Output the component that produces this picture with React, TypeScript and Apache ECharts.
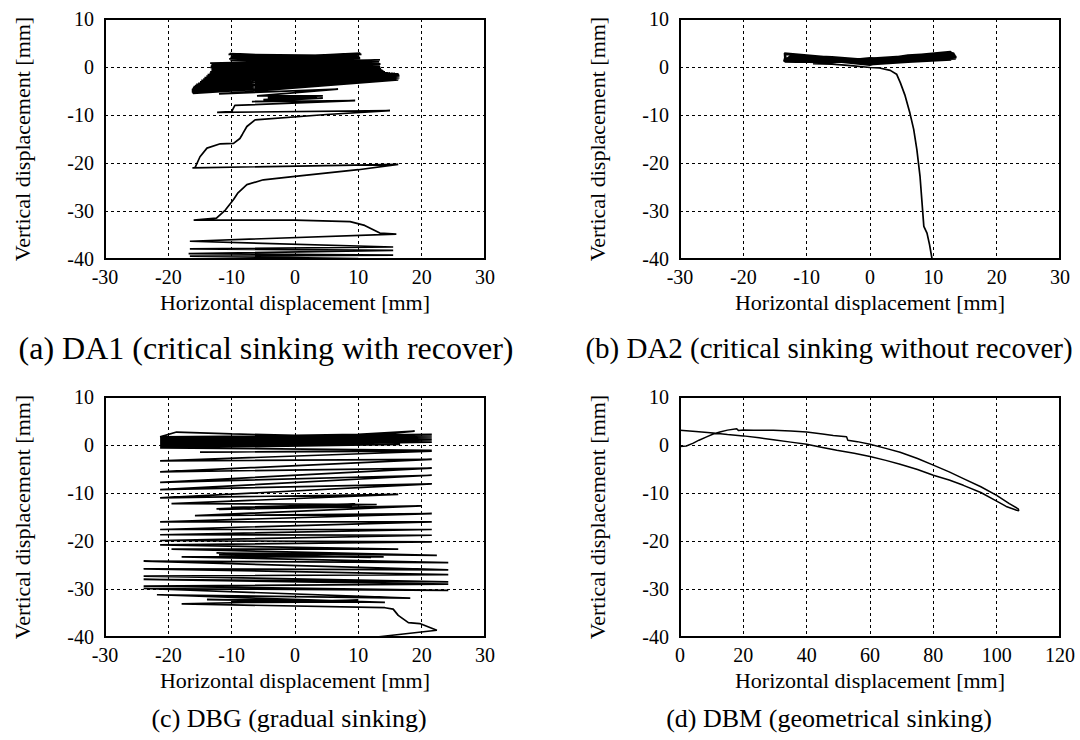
import React, { useEffect, useRef } from "react";
import * as echarts from "echarts";

const FONT = "Liberation Serif";

const xLabel = "Horizontal displacement [mm]";
const yLabel = "Vertical displacement [mm]";
const captions = [
  "(a) DA1 (critical sinking with recover)",
  "(b) DA2 (critical sinking without recover)",
  "(c) DBG (gradual sinking)",
  "(d) DBM (geometrical sinking)",
];
const xRanges: [number, number, number][] = [
  [-30, 30, 10],
  [-30, 30, 10],
  [-30, 30, 10],
  [0, 120, 20],
];
const yRange: [number, number, number] = [-40, 10, 10];

// (a) DA1 trajectory [horizontal, vertical] in mm
const da1Path: [number, number][] = [
  [0, 0.5], [-10.3, 2.8], [0, 2.2], [10.3, 2.9], [9, 2.4], [-10.5, 2.6], [0, 2.0], [10.5, 2.6],
  [-10, 2.3], [0, 1.8], [10, 2.3], [-10.2, 2.0], [0, 1.6], [10.2, 2.0], [-10.4, 1.7], [0, 1.3],
  [10.3, 1.8], [-10.2, 1.4], [0, 1.0], [10.1, 1.5],
  [-13.4, 0.8], [13.4, 1.5], [-13.2, 0.5], [13.3, 1.2], [-13.3, 0.2], [13.3, 0.9], [-13.4, -0.1],
  [13.5, 0.6], [-13.2, -0.4], [13.4, 0.4], [-13.2, -0.7], [13.4, 0.1], [-13.4, -1.0], [13.5, -0.1],
  [-13.5, -1.3], [13.5, -0.3], [-13.8, -1.6], [13.6, -0.5], [-14, -1.9], [13.8, -0.7],
  [-14.3, -2.2], [14.0, -0.9], [-14.5, -2.5], [14.2, -1.0], [-14.8, -2.8], [14.6, -1.2],
  [-15, -3.1], [15, -1.3], [-15.3, -3.4], [15.4, -1.35], [-15.6, -3.6], [15.8, -1.4],
  [-15.8, -3.9], [16.1, -1.45], [-16, -4.1], [16.3, -1.5], [-16.1, -4.3], [16.4, -1.6],
  [-16.2, -4.5], [16.4, -1.7], [-16.3, -4.7], [16.5, -1.8], [-16.3, -4.8], [16.5, -1.9],
  [-16.3, -4.9], [16.5, -2.0], [-16.3, -5.0], [16.5, -2.1], [-16.3, -5.1], [16.5, -2.2],
  [-16.3, -5.2], [16.5, -2.3], [-16.2, -5.3], [16.5, -2.4], [-16.2, -5.4], [16.4, -2.5],
  [-16.1, -5.5], [16.3, -2.7], [-12, -5.6], [6.8, -4.6], [-6, -6.0], [4.4, -6.0],
  [-4.3, -6.4], [3.5, -6.3], [-5, -6.8], [4.4, -6.5], [-6.8, -7.2], [9.5, -7.0],
  [-9.5, -8.0], [-10, -9.3], [-12.3, -9.45], [15, -9.1], [5, -9.9], [-6.3, -11.0],
  [-7.6, -12.4], [-8.3, -14.0], [-8.7, -14.9], [-9.7, -15.9], [-11.8, -16.0], [-13.9, -16.9],
  [-15.0, -18.7], [-15.8, -21.0], [-16.2, -21.0], [16.3, -20.3], [10, -21.4], [0, -22.8],
  [-5, -23.5], [-7.6, -24.5], [-9.0, -26.2], [-9.7, -27.6], [-11, -29.8], [-12.4, -31.5],
  [-16, -31.9], [0, -31.9], [8.7, -32.2], [11, -33.0], [13.4, -34.6], [16, -34.8],
  [-16.6, -36.3], [15.5, -37.5], [-16.6, -37.9], [15.5, -38.2], [-16.8, -38.9], [15.5, -39.2],
  [-16.6, -39.4], [10, -39.9],
];

// (b) DA2 trajectory
const da2Path: [number, number][] = [
  [0, 0.4], [-6, 1.6], [-13.5, 2.8], [-6, 1.9], [0, 1.2], [6, 1.5], [13.4, 1.8],
  [12.5, 3.1], [6, 2.2], [0, 1.4], [-6, 1.2], [-13.6, 1.2], [-13.3, 2.6], [-6, 1.7],
  [0, 0.9], [6, 1.3], [13.5, 1.7], [13.2, 2.9], [6, 2.0], [0, 1.2], [-6, 1.0],
  [-13.4, 1.0], [-13.5, 2.9], [-6, 2.0], [0, 0.8], [6, 1.2], [13.6, 1.9], [12.7, 3.2],
  [6, 2.4], [0, 1.6], [-6, 1.5], [-13.2, 1.4], [-13.4, 2.7], [-6, 1.8], [0, 1.0],
  [6, 1.6], [13.6, 2.1], [12.9, 3.0], [6, 2.3], [0, 1.8], [-6, 0.9], [-13.5, 1.1],
  [-12.5, 2.5], [-6, 2.1], [0, 1.5], [6, 1.9], [13.2, 2.5], [13.0, 2.0], [6, 1.7],
  [0, 0.6], [-6, 1.3], [-12.8, 1.6], [-12.6, 2.3], [-6, 1.4], [0, 0.5], [6, 1.0],
  [12.8, 1.5], [12.2, 2.7], [6, 2.1], [0, 1.7], [-6, 1.1], [-12.9, 1.3], [-12.4, 2.2],
  [-6, 1.2], [0, 0.4], [6, 1.8], [12.6, 2.2], [11.5, 2.9], [6, 2.5], [0, 1.3],
  [-6, 1.7], [-13.0, 1.9], [-12.0, 2.0], [-6, 1.5], [0, 1.1], [6, 1.4], [13.4, 2.4],
  [13.3, 2.7], [6, 1.9], [0, 1.0], [-6, 1.6], [-12.8, 2.1], [-13.2, 1.7], [-6, 1.3],
  [0, 0.7], [6, 1.1], [13.4, 2.0], [12.0, 2.4], [6, 1.6], [0, 1.9],
  [-9, 0.7], [-6, 0.6], [-3, 0.3], [0, -0.1], [1.5, -0.2], [3.2, -0.7], [4.2, -1.5],
  [4.8, -3.3], [5.5, -5.8], [6.3, -9.6], [6.9, -13], [7.4, -17.2], [7.9, -22.8],
  [8.2, -28], [8.5, -33.2], [9.0, -34.6], [9.4, -37], [9.8, -40],
];

// (c) DBG trajectory
const dbgPath: [number, number][] = [
  [0, 0.5], [18.9, 2.9], [10, 2.2], [0, 2.0], [-10, 2.3], [-18.7, 2.7], [-21.3, 1.7],
  [21.6, 2.2], [-21.3, 1.5], [21.6, 2.0], [-21.3, 1.2], [21.6, 1.8], [-21.3, 0.9],
  [21.6, 1.5], [-21.3, 0.6], [21.6, 1.2], [-21.3, 0.3], [21.6, 0.9], [-21.3, 0.0],
  [21.6, 0.6], [-21.3, -0.3], [16.6, 0.1], [-21.3, -0.6], [21.6, -1.1], [-15, -1.5],
  [21.6, -1.3], [-21.3, -3.3], [21.6, -3.0], [-21.3, -5.6], [21.6, -4.8], [-21.3, -7.8],
  [21.6, -6.3], [-21.3, -9.3], [21.6, -8.1], [-21.3, -11.0], [16.3, -10.3], [-19.5, -12.2],
  [12.9, -12.4], [-12.4, -13.3], [9.5, -12.3], [-10, -13.0], [9, -12.6], [-12, -13.4],
  [20, -12.7], [-15.8, -14.7], [21.6, -14.3], [-21.3, -16.0], [21.6, -16.0], [-21.3, -17.6],
  [21.6, -17.6], [-21.3, -18.7], [21.6, -18.8], [-21.3, -19.9], [21.6, -20.2], [-21.3, -20.8],
  [16.3, -21.7], [-19.5, -21.7], [22.4, -23.0], [-12.4, -22.5], [12, -23.4], [-12, -22.9],
  [14, -23.3], [-17.9, -23.3], [24.2, -24.5], [-23.9, -24.2], [24.2, -26.0], [-23.9, -25.8],
  [24.2, -27.0], [-23.9, -27.3], [24.2, -28.5], [-23.9, -28.0], [24.2, -29.0], [-23.9, -29.4],
  [24.2, -30.3], [-23.9, -29.9], [18.2, -31.9], [-21.8, -31.2], [14.2, -32.8], [-13.9, -32.2],
  [9.5, -32.4], [-10, -32.5], [10, -32.7], [-10, -32.8], [10, -32.3], [-17.9, -33.1],
  [14.2, -33.9], [15.5, -34.2], [16.3, -35.5], [17.9, -37.0], [19.7, -37.2], [22.4, -38.6],
  [12.9, -40],
];

// (d) DBM trajectory
const dbmPath: [number, number][] = [
  [0, -0.3], [2, -0.2], [4.2, 0.4], [6, 1.0], [8.4, 1.7], [10.5, 2.3], [12.6, 2.7],
  [15, 3.1], [17.9, 3.4], [18.5, 3.0], [20, 3.1], [23.2, 3.05], [29.5, 3.05], [35, 2.9],
  [40, 2.7], [45, 2.3], [48.4, 2.0], [52.6, 1.7], [53, 1.0], [56, 0.7], [60, 0.15],
  [65, -0.7], [69.5, -1.5], [75, -2.8], [80, -4.2], [85, -5.6], [89.5, -7.0], [95, -8.7],
  [100, -10.5], [104, -12.2], [106.8, -13.3], [107, -13.7], [106.3, -13.6], [103, -12.8],
  [100, -11.7], [95, -9.9], [89.5, -8.4], [85, -7.3], [80, -6.3], [75, -5.1], [69.5, -4.0],
  [65, -3.2], [60, -2.4], [55, -1.7], [49.5, -1.1], [45, -0.5], [40, 0.15], [35, 0.6],
  [29.5, 1.1], [25, 1.5], [20, 1.9], [15, 2.2], [10.5, 2.5], [5, 2.8], [0, 3.05],
];

const paths = [da1Path, da2Path, dbgPath, dbmPath];
const gridPos = [
  { left: 105, top: 19 },
  { left: 680, top: 19 },
  { left: 105, top: 397 },
  { left: 680, top: 397 },
];
const captionPos = [
  { x: 266, y: 348, size: 32 },
  { x: 829, y: 348, size: 29 },
  { x: 289, y: 718, size: 26 },
  { x: 829, y: 718, size: 26 },
];
const lineWidths = [1.7, 1.7, 1.7, 1.5];

export default function App() {
  const ref = useRef<HTMLDivElement>(null);
  useEffect(() => {
    if (!ref.current) return;
    const chart = echarts.init(ref.current, null, { renderer: "svg" });
    const axisText = { color: "#000", fontFamily: FONT, fontSize: 20 };
    const nameText = { color: "#000", fontFamily: FONT, fontSize: 22 };
    const split = { show: true, lineStyle: { color: "#000", type: [3, 3] as any, width: 1 } };
    chart.setOption({
      animation: false,
      backgroundColor: "#fff",
      textStyle: { fontFamily: FONT },
      grid: gridPos.map((g) => ({
        left: g.left,
        top: g.top,
        width: 380,
        height: 240,
        show: true,
        borderColor: "#000",
        borderWidth: 2,
        backgroundColor: "transparent",
      })),
      xAxis: xRanges.map((r, i) => ({
        gridIndex: i,
        type: "value",
        min: r[0],
        max: r[1],
        interval: r[2],
        axisLine: { show: false },
        axisTick: { show: false },
        axisLabel: { ...axisText, margin: 8 },
        splitLine: split,
        name: xLabel,
        nameLocation: "middle",
        nameGap: 32,
        nameTextStyle: nameText,
      })),
      yAxis: xRanges.map((_, i) => ({
        gridIndex: i,
        type: "value",
        min: yRange[0],
        max: yRange[1],
        interval: yRange[2],
        axisLine: { show: false },
        axisTick: { show: false },
        axisLabel: { ...axisText, margin: 11 },
        splitLine: split,
        name: yLabel,
        nameLocation: "middle",
        nameGap: 72,
        nameTextStyle: nameText,
      })),
      series: paths.map((p, i) => ({
        type: "line",
        xAxisIndex: i,
        yAxisIndex: i,
        data: p,
        showSymbol: false,
        symbol: "none",
        clip: true,
        silent: true,
        lineStyle: { color: "#000", width: lineWidths[i] },
      })),
      graphic: captions.map((c, i) => ({
        type: "text",
        x: captionPos[i].x,
        y: captionPos[i].y,
        style: {
          text: c,
          fill: "#000",
          fontFamily: FONT,
          fontSize: captionPos[i].size,
          align: "center",
          verticalAlign: "middle",
        },
      })),
    });
    return () => chart.dispose();
  }, []);
  return (
    <div
      ref={ref}
      style={{ position: "fixed", left: 0, top: 0, width: 1080, height: 740, background: "#fff" }}
    />
  );
}
